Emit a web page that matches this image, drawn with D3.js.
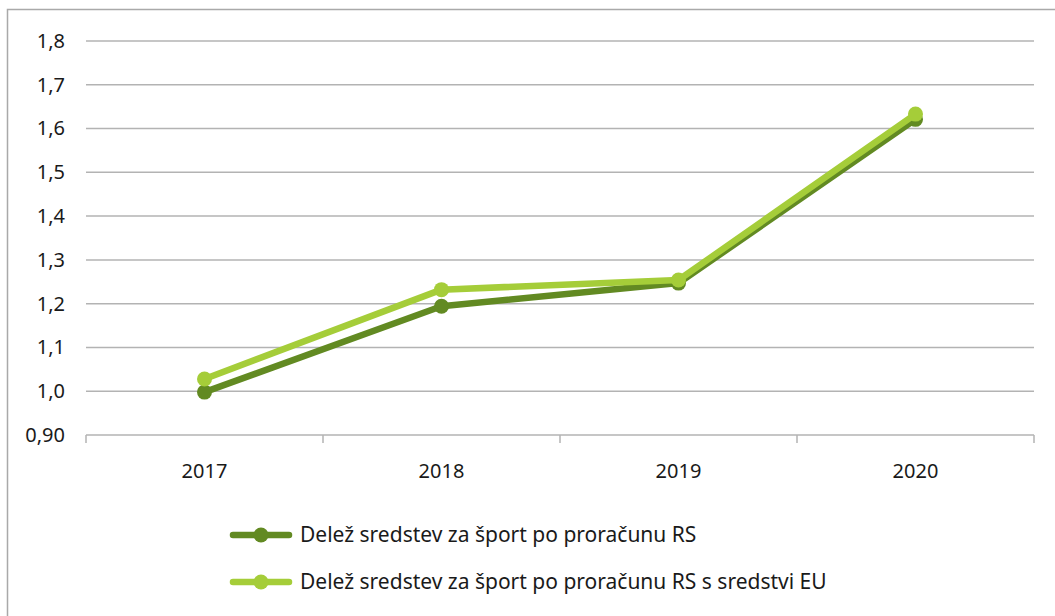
<!DOCTYPE html>
<html>
<head>
<meta charset="utf-8">
<script src="https://cdn.jsdelivr.net/npm/d3@7"></script>
<style>
  body { margin: 0; background: #fff; }
  text { font-family: "Noto Sans", "Open Sans", sans-serif; fill: #1a1a1a; }
</style>
</head>
<body>
<div id="chart"></div>
<script>
// chart data
const years = ['2017', '2018', '2019', '2020'];
const seriesNames = [
    'Delež sredstev za šport po proračunu RS',
    'Delež sredstev za šport po proračunu RS s sredstvi EU'
];
const budgetRS = [0.998, 1.194, 1.247, 1.621];
const budgetRSwithEU = [1.028, 1.232, 1.254, 1.633];
const yTicks = [0.9, 1.0, 1.1, 1.2, 1.3, 1.4, 1.5, 1.6, 1.7, 1.8];
const yTickLabels = ['0,90', '1,0', '1,1', '1,2', '1,3', '1,4', '1,5', '1,6', '1,7', '1,8'];

const colors = ['#628a22', '#a5cd39'];
const series = [budgetRS, budgetRSwithEU];

const width = 1055;
const height = 616;
const margin = { top: 41, bottom: 181, left: 86, right: 21 };

const svg = d3.select('#chart')
    .append('svg')
    .attr('width', width)
    .attr('height', height);

// outer frame
svg.append('rect')
    .attr('x', 7.5).attr('y', 9.5)
    .attr('width', width).attr('height', height)
    .attr('fill', 'none')
    .attr('stroke', '#a9a9a9')
    .attr('stroke-width', 1.5);

const x = d3.scaleBand()
    .domain(years)
    .range([margin.left, width - margin.right]);

const y = d3.scaleLinear()
    .domain([0.9, 1.8])
    .range([height - margin.bottom, margin.top]);

// grid lines
svg.append('g')
    .selectAll('line')
    .data(yTicks.slice(1))
    .join('line')
    .attr('x1', margin.left)
    .attr('x2', width - margin.right)
    .attr('y1', d => y(d))
    .attr('y2', d => y(d))
    .attr('stroke', '#b3b3b3')
    .attr('stroke-width', 1.5);

// y axis labels
let yAxis = (g) => {
    g.attr('transform', `translate(${margin.left}, 0)`)
        .call(d3.axisLeft(y).tickValues(yTicks).tickSize(0).tickPadding(21)
            .tickFormat((d, i) => yTickLabels[i]))
        .attr('font-size', '20px');
    g.select('.domain').remove();
    g.selectAll('text').attr('fill', '#1a1a1a').style('font-family', '"Noto Sans", sans-serif');
};
svg.append('g').call(yAxis);

// x axis with ticks at category boundaries
const xBase = y(0.9);
svg.append('line')
    .attr('x1', margin.left).attr('x2', width - margin.right)
    .attr('y1', xBase).attr('y2', xBase)
    .attr('stroke', '#b3b3b3').attr('stroke-width', 1.5);

const bounds = years.map(d => x(d)).concat([x(years[years.length - 1]) + x.bandwidth()]);
svg.append('g')
    .selectAll('line')
    .data(bounds)
    .join('line')
    .attr('x1', d => d).attr('x2', d => d)
    .attr('y1', xBase).attr('y2', xBase + 8)
    .attr('stroke', '#b3b3b3').attr('stroke-width', 1.5);

svg.append('g')
    .selectAll('text')
    .data(years)
    .join('text')
    .attr('x', d => x(d) + x.bandwidth() / 2)
    .attr('y', xBase + 43)
    .attr('text-anchor', 'middle')
    .attr('font-size', '20px')
    .text(d => d);

// lines and markers
const line = d3.line()
    .x((d, i) => x(years[i]) + x.bandwidth() / 2)
    .y(d => y(d));

series.forEach((values, s) => {
    const g = svg.append('g');
    g.append('path')
        .datum(values)
        .attr('d', line)
        .attr('fill', 'none')
        .attr('stroke', colors[s])
        .attr('stroke-width', 6.5)
        .attr('stroke-linejoin', 'round');
    g.selectAll('circle')
        .data(values)
        .join('circle')
        .attr('cx', (d, i) => x(years[i]) + x.bandwidth() / 2)
        .attr('cy', d => y(d))
        .attr('r', 7.5)
        .attr('fill', colors[s]);
});

// legend
const legend = svg.append('g')
    .selectAll('g')
    .data(seriesNames)
    .join('g')
    .attr('transform', (d, i) => `translate(233, ${535 + i * 47})`);

legend.append('line')
    .attr('x1', 0).attr('x2', 56)
    .attr('stroke', (d, i) => colors[i])
    .attr('stroke-width', 6.5)
    .attr('stroke-linecap', 'round');
legend.append('circle')
    .attr('cx', 28).attr('r', 7.5)
    .attr('fill', (d, i) => colors[i]);
legend.append('text')
    .attr('x', 67)
    .attr('dy', '0.35em')
    .attr('font-size', '21px')
    .text(d => d);
</script>
</body>
</html>
